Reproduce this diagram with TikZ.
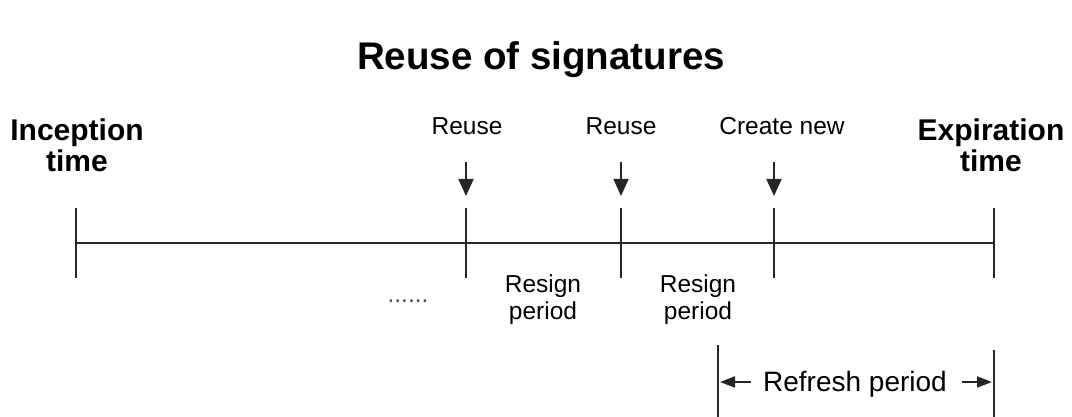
\documentclass[tikz,border=0pt]{standalone}
\usepackage{fontspec}
\setmainfont{Liberation Sans}
\usetikzlibrary{arrows.meta}
\begin{document}
\begin{tikzpicture}[x=1pt,y=1pt,
  lbl/.style={inner sep=0pt, font=\fontsize{24.5}{27}\selectfont, align=center},
  bold/.style={inner sep=0pt, font=\fontsize{30}{31}\selectfont\bfseries, align=center},
  axis/.style={line width=1.8pt, black!85},
  marker/.style={line width=1.8pt, black!85, -{Triangle[length=17pt,width=15pt]}},
  span/.style={line width=1.8pt, black!85, -{Triangle[length=15pt,width=11pt]}}
]
\useasboundingbox (0,0) rectangle (1072,-417);

% title
\node[inner sep=0pt, anchor=base, font=\fontsize{38.5}{40}\selectfont\bfseries] (title) at (541,-70) {Reuse of signatures};

% timeline
\coordinate (t0) at (76,-243);
\coordinate (t1) at (466,-243);
\coordinate (t2) at (621,-243);
\coordinate (t3) at (774,-243);
\coordinate (t4) at (994,-243);
\draw[axis] (t0) -- (t4);
\foreach \p in {t0,t1,t2,t3,t4} {
  \draw[axis] ([yshift=35pt]\p) -- ([yshift=-35pt]\p);
}

% end labels
\node[bold, anchor=north] (inc) at (77,-119) {Inception\\time};
\node[bold, anchor=north] (exp) at (991,-119) {Expiration\\time};

% event labels and arrows
\node[lbl, anchor=base] (r1) at (467,-135) {Reuse};
\node[lbl, anchor=base] (r2) at (621,-135) {Reuse};
\node[lbl, anchor=base] (cn) at (782,-135) {Create new};
\foreach \p/\n in {t1/a1,t2/a2,t3/a3} {
  \coordinate (\n s) at ([yshift=81pt]\p);
  \coordinate (\n e) at ([yshift=47pt]\p);
  \draw[marker] (\n s) -- (\n e);
}

% periods
\node[lbl, anchor=base, text=black!70] (dots) at (408,-302) {......};
\node[lbl, anchor=north] (rp1) at (543,-275) {Resign\\period};
\node[lbl, anchor=north] (rp2) at (698,-275) {Resign\\period};

% refresh period
\coordinate (fl1) at (718,-345);
\coordinate (fl2) at (718,-417);
\coordinate (fr1) at (994,-350);
\coordinate (fr2) at (994,-417);
\draw[axis] (fl1) -- (fl2);
\draw[axis] (fr1) -- (fr2);
\node[inner sep=0pt, anchor=base, font=\fontsize{28}{30}\selectfont] (rf) at (855,-391) {Refresh period};
\coordinate (la) at (751,-382);
\coordinate (lb) at (720,-382);
\coordinate (ra) at (962,-382);
\coordinate (rb) at (992,-382);
\draw[span] (la) -- (lb);
\draw[span] (ra) -- (rb);
\end{tikzpicture}
\end{document}
